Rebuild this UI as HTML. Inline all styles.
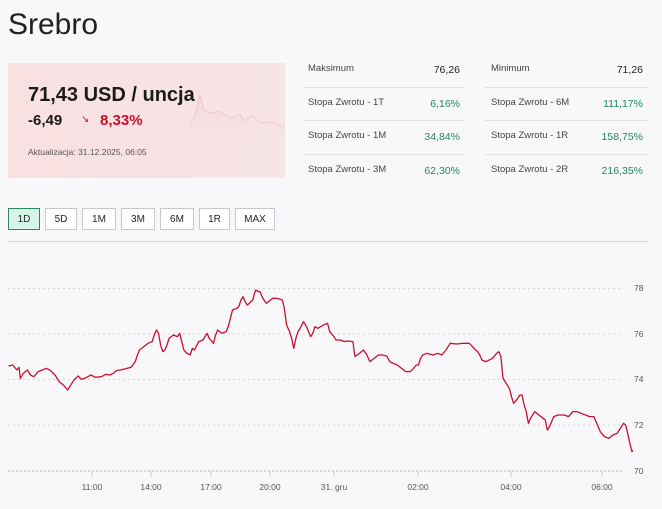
<!DOCTYPE html>
<html><head><meta charset="utf-8"><style>
body{margin:0;width:662px;height:509px;background:#f8f8fa;font-family:"Liberation Sans",sans-serif;position:relative;overflow:hidden;color:#222}
.a{position:absolute;white-space:nowrap}
.lbl{font-size:9.5px;color:#444}
.val{font-size:10.5px;text-align:right}
.g{color:#1f8a5a}
.sep{position:absolute;height:1px;background:#e2e2e6}
.btn{position:absolute;top:208px;height:22px;border:1px solid #c5c8cf;background:#fff;font-size:10px;line-height:22px;text-align:center;box-sizing:border-box}
</style></head><body>
<div class="a" style="left:8px;top:8px;font-size:30px;color:#222">Srebro</div>
<div class="a" style="left:8px;top:63px;width:277px;height:115px;background:linear-gradient(90deg,#f9e0e1,#f7e5e6)"></div>
<svg class="a" style="left:190px;top:85px" width="95" height="60"><defs><linearGradient id="mg" x1="0" y1="0" x2="0" y2="1"><stop offset="0" stop-color="#efc9cc" stop-opacity="0.6"/><stop offset="1" stop-color="#f7e5e6" stop-opacity="0"/></linearGradient></defs><polyline points="0,40 5,30 10,10 14,25 20,28 30,26 40,33 50,30 55,36 62,30 70,38 80,37 95,42 95,60 0,60" fill="url(#mg)"/><polyline points="0,40 5,30 10,10 14,25 20,28 30,26 40,33 50,30 55,36 62,30 70,38 80,37 95,42" fill="none" stroke="#ecc4c7" stroke-width="0.8"/></svg>
<div class="a" style="left:28px;top:84px;font-size:20px;font-weight:bold;color:#1a1a1a">71,43 USD / uncja</div>
<div class="a" style="left:28px;top:112px;font-size:15px;font-weight:bold;color:#1a1a1a">-6,49</div>
<div class="a" style="left:81px;top:114px;font-size:10px;color:#c8102e">↘</div>
<div class="a" style="left:100px;top:112px;font-size:15px;font-weight:bold;color:#c8102e">8,33%</div>
<div class="a" style="left:28px;top:147px;font-size:8.5px;color:#555">Aktualizacja: 31.12.2025, 06:05</div>

<div class="a lbl" style="left:308px;top:63px">Maksimum</div><div class="a val" style="left:400px;width:60px;top:64px">76,26</div>
<div class="a lbl" style="left:308px;top:97px">Stopa Zwrotu - 1T</div><div class="a val g" style="left:400px;width:60px;top:98px">6,16%</div>
<div class="a lbl" style="left:308px;top:130px">Stopa Zwrotu - 1M</div><div class="a val g" style="left:400px;width:60px;top:131px">34,84%</div>
<div class="a lbl" style="left:308px;top:164px">Stopa Zwrotu - 3M</div><div class="a val g" style="left:400px;width:60px;top:165px">62,30%</div>
<div class="sep" style="left:303px;width:162px;top:87px"></div><div class="sep" style="left:303px;width:162px;top:120px"></div><div class="sep" style="left:303px;width:162px;top:154px"></div>
<div class="a lbl" style="left:491px;top:63px">Minimum</div><div class="a val" style="left:583px;width:60px;top:64px">71,26</div>
<div class="a lbl" style="left:491px;top:97px">Stopa Zwrotu - 6M</div><div class="a val g" style="left:583px;width:60px;top:98px">111,17%</div>
<div class="a lbl" style="left:491px;top:130px">Stopa Zwrotu - 1R</div><div class="a val g" style="left:583px;width:60px;top:131px">158,75%</div>
<div class="a lbl" style="left:491px;top:164px">Stopa Zwrotu - 2R</div><div class="a val g" style="left:583px;width:60px;top:165px">216,35%</div>
<div class="sep" style="left:485px;width:163px;top:87px"></div><div class="sep" style="left:485px;width:163px;top:120px"></div><div class="sep" style="left:485px;width:163px;top:154px"></div>

<div class="btn" style="left:8px;width:32px;background:#d4f5e8;border-color:#2b8a5e">1D</div>
<div class="btn" style="left:45px;width:32px">5D</div>
<div class="btn" style="left:82px;width:34px">1M</div>
<div class="btn" style="left:121px;width:34px">3M</div>
<div class="btn" style="left:160px;width:34px">6M</div>
<div class="btn" style="left:199px;width:31px">1R</div>
<div class="btn" style="left:235px;width:40px">MAX</div>
<div class="sep" style="left:8px;width:640px;top:241px;background:#d5d6da"></div>

<svg class="a" style="left:0;top:0" width="662" height="509">
<g stroke="#d6d7db" stroke-dasharray="2,3" stroke-width="1">
<line x1="8" x2="622" y1="288.5" y2="288.5"/><line x1="8" x2="622" y1="334" y2="334"/><line x1="8" x2="622" y1="379.5" y2="379.5"/><line x1="8" x2="622" y1="425" y2="425"/></g>
<line x1="8" x2="622" y1="471" y2="471" stroke="#c8c9cd" stroke-width="1.5" stroke-dasharray="2,2"/>
<g stroke="#c8c9cd"><line x1="92" x2="92" y1="471" y2="477"/><line x1="151" x2="151" y1="471" y2="477"/><line x1="211" x2="211" y1="471" y2="477"/><line x1="270" x2="270" y1="471" y2="477"/><line x1="334" x2="334" y1="471" y2="477"/><line x1="418" x2="418" y1="471" y2="477"/><line x1="511" x2="511" y1="471" y2="477"/><line x1="602" x2="602" y1="471" y2="477"/></g>
<g font-size="8.5" fill="#555" font-family="Liberation Sans, sans-serif">
<text x="634" y="291">78</text><text x="634" y="337">76</text><text x="634" y="382">74</text><text x="634" y="428">72</text><text x="634" y="474">70</text>
<text x="92" y="490" text-anchor="middle">11:00</text><text x="151" y="490" text-anchor="middle">14:00</text><text x="211" y="490" text-anchor="middle">17:00</text><text x="270" y="490" text-anchor="middle">20:00</text><text x="334" y="490" text-anchor="middle">31. gru</text><text x="418" y="490" text-anchor="middle">02:00</text><text x="511" y="490" text-anchor="middle">04:00</text><text x="602" y="490" text-anchor="middle">06:00</text></g>
<g transform="translate(0,280) scale(0.4227,0.3333)">
<polyline fill="none" stroke="#c8102e" stroke-width="1.3" vector-effect="non-scaling-stroke" stroke-linejoin="round" points="20,258 30,255 40,270 45,262 48,295 55,280 65,270 72,285 80,290 90,275 110,265 120,272 130,285 140,305 150,315 160,330 170,310 175,300 185,288 192,298 200,295 208,290 215,285 225,292 240,290 250,283 260,285 268,280 275,272 285,270 300,265 310,262 320,245 325,225 330,210 335,205 340,200 350,190 360,185 365,165 370,150 375,160 380,195 385,215 390,210 395,195 400,175 410,165 420,170 425,160 430,185 435,210 442,220 450,225 455,205 460,210 470,185 480,180 490,160 495,175 505,190 510,165 515,150 525,160 535,155 540,140 550,90 560,85 565,80 570,60 575,50 580,65 585,75 590,70 598,60 602,40 605,30 612,35 615,35 622,55 630,70 638,62 645,55 655,55 668,60 672,80 678,135 685,155 690,175 695,205 700,175 705,155 712,140 718,125 725,140 735,170 740,160 745,140 752,145 765,135 775,130 780,155 790,170 795,180 805,180 815,185 820,183 835,185 838,215 840,230 850,220 860,210 868,225 875,245 885,235 895,225 905,225 915,228 922,245 930,250 940,255 950,265 960,275 970,275 975,270 985,255 990,255 995,235 1000,225 1010,220 1025,225 1035,220 1045,225 1055,210 1065,190 1080,192 1095,190 1110,190 1118,200 1125,210 1130,215 1135,225 1140,240 1150,245 1165,235 1175,220 1180,215 1185,230 1190,295 1200,315 1205,325 1210,350 1215,370 1222,360 1230,345 1235,345 1240,375 1245,395 1250,430 1255,415 1265,395 1275,405 1285,415 1290,420 1295,450 1300,440 1310,410 1320,405 1330,405 1335,405 1345,410 1355,395 1365,395 1375,400 1385,405 1395,410 1405,410 1415,440 1420,455 1430,470 1440,475 1450,465 1460,460 1465,450 1475,430 1480,435 1485,460 1490,490 1495,515 1497,510"/>
</g>
</svg>
</body></html>
